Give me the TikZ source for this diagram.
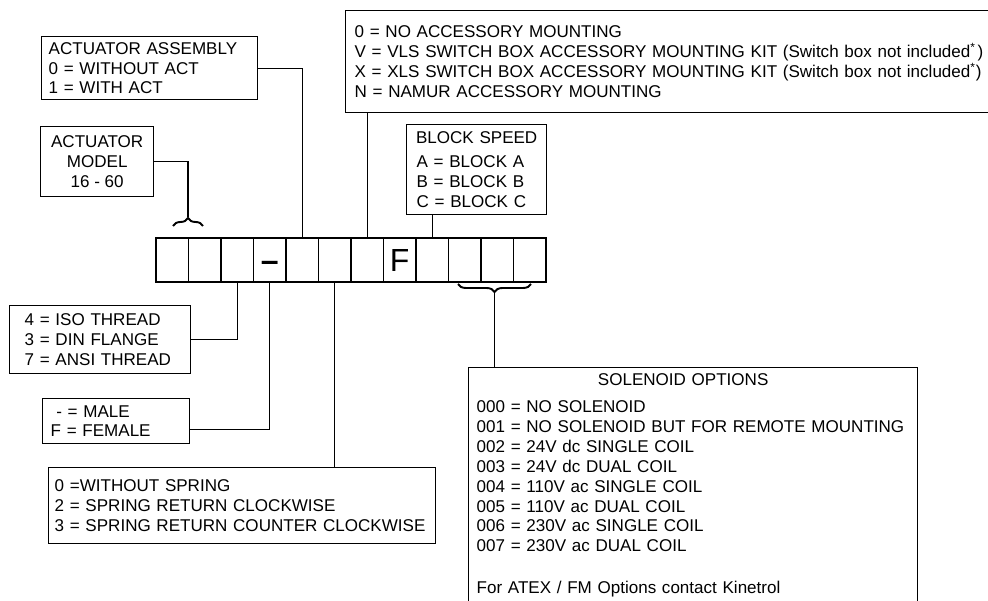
\documentclass[tikz,border=0pt]{standalone}
\usepackage{fontspec}
\setmainfont{Liberation Sans}
\usetikzlibrary{decorations.pathreplacing}

\begin{document}
\begin{tikzpicture}[x=0.02cm,y=-0.02cm,
    font=\fontsize{9.7pt}{11.3pt}\selectfont,
    box/.style={draw,line width=0.8pt,anchor=north west,inner ysep=2pt,align=left},
    cell/.style={draw,line width=0.8pt,minimum width=0.65cm,minimum height=0.88cm,inner sep=0pt},
    glyph/.style={inner sep=0pt,font=\fontsize{18.2pt}{20pt}\selectfont,text height=13pt,text depth=0pt},
    link/.style={line width=0.6pt},
    curly/.style={decorate,decoration={brace,amplitude=0.16cm},line width=1.1pt}]
    \useasboundingbox (0,0) rectangle (988,601);
    \clip (0,0) rectangle (988,601);

    % the code cells
    \foreach \i in {1,...,12}
        \node[cell] (c\i) at ({139.75+32.5*\i},260) {};
    \node[glyph] (dash) at (c4.center) {\textbf{--}};
    \node[glyph] (fem) at (c8.center) {F};

    \coordinate (tipA) at (188,217);
    \coordinate (tipB) at (494.5,293);
    \draw[curly] (173,226) -- (203,226);
    \draw[curly] (531,284) -- (458,284);

    % boxes above
    \node[box,minimum width=4.32cm,minimum height=1.26cm,inner xsep=0.14cm,text width=4.04cm] (asm) at (41,36)
        {ACTUATOR ASSEMBLY\\ 0 = WITHOUT ACT\\ 1 = WITH ACT};
    \node[box,minimum width=2.26cm,minimum height=1.4cm,inner xsep=0pt,align=center] (model) at (40,126)
        {ACTUATOR\\ MODEL\\ 16 - 60};
    \node[box,minimum width=14cm,minimum height=2.04cm,inner xsep=0.18cm,text width=13.64cm] (acc) at (345,10)
        {0 = NO ACCESSORY MOUNTING\\
         V = VLS SWITCH BOX ACCESSORY MOUNTING KIT (Switch box not included\textsuperscript{*}\kern1pt)\\
         X = XLS SWITCH BOX ACCESSORY MOUNTING KIT (Switch box not included\textsuperscript{*})\\
         N = NAMUR ACCESSORY MOUNTING};
    \node[box,minimum width=2.8cm,minimum height=1.8cm,inner xsep=0.2cm,text width=2.4cm] (blk) at (406,124)
        {\makebox[\linewidth]{BLOCK SPEED}\\[2.5pt] A = BLOCK A\\ B = BLOCK B\\ C = BLOCK C};

    % boxes below
    \node[box,minimum width=3.62cm,minimum height=1.36cm,inner xsep=0.3cm,text width=3.02cm] (iso) at (9,305)
        {4 = ISO THREAD\\ 3 = DIN FLANGE\\ 7 = ANSI THREAD};
    \node[box,minimum width=2.94cm,minimum height=0.9cm,inner xsep=0.16cm,text width=2.62cm] (male) at (42,398)
        {~- = MALE\\ F = FEMALE};
    \node[box,minimum width=7.74cm,minimum height=1.52cm,inner xsep=0.12cm,text width=7.5cm] (spring) at (48,467)
        {0 =WITHOUT SPRING\\ 2 = SPRING RETURN CLOCKWISE\\ 3 = SPRING RETURN COUNTER CLOCKWISE};
    \node[box,minimum width=8.98cm,inner xsep=0.16cm,inner ysep=0.11cm,text width=8.66cm] (sol) at (468,367)
        {\makebox[\linewidth]{SOLENOID OPTIONS\hspace{0.4cm}}\\[4.5pt]
         000 = NO SOLENOID\\
         001 = NO SOLENOID BUT FOR REMOTE MOUNTING\\
         002 = 24V dc SINGLE COIL\\
         003 = 24V dc DUAL COIL\\
         004 = 110V ac SINGLE COIL\\
         005 = 110V ac DUAL COIL\\
         006 = 230V ac SINGLE COIL\\
         007 = 230V ac DUAL COIL\\[12.5pt]
         For ATEX / FM Options contact Kinetrol\\[1.5cm]};

    % connectors
    \draw[link] (asm.east) -| (c5.north);
    \draw[link] (model.east) -| (tipA);
    \draw[link] (c7.north) -- (c7.north |- acc.south);
    \draw[link] (c9.north) -- (c9.north |- blk.south);
    \draw[link] (c3.south) |- (iso.east);
    \draw[link] (c4.south) |- ([yshift=-0.17cm]male.east);
    \draw[link] (c6.south) -- (c6.south |- spring.north);
    \draw[link] (tipB) -- (tipB |- sol.north);
\end{tikzpicture}
\end{document}
